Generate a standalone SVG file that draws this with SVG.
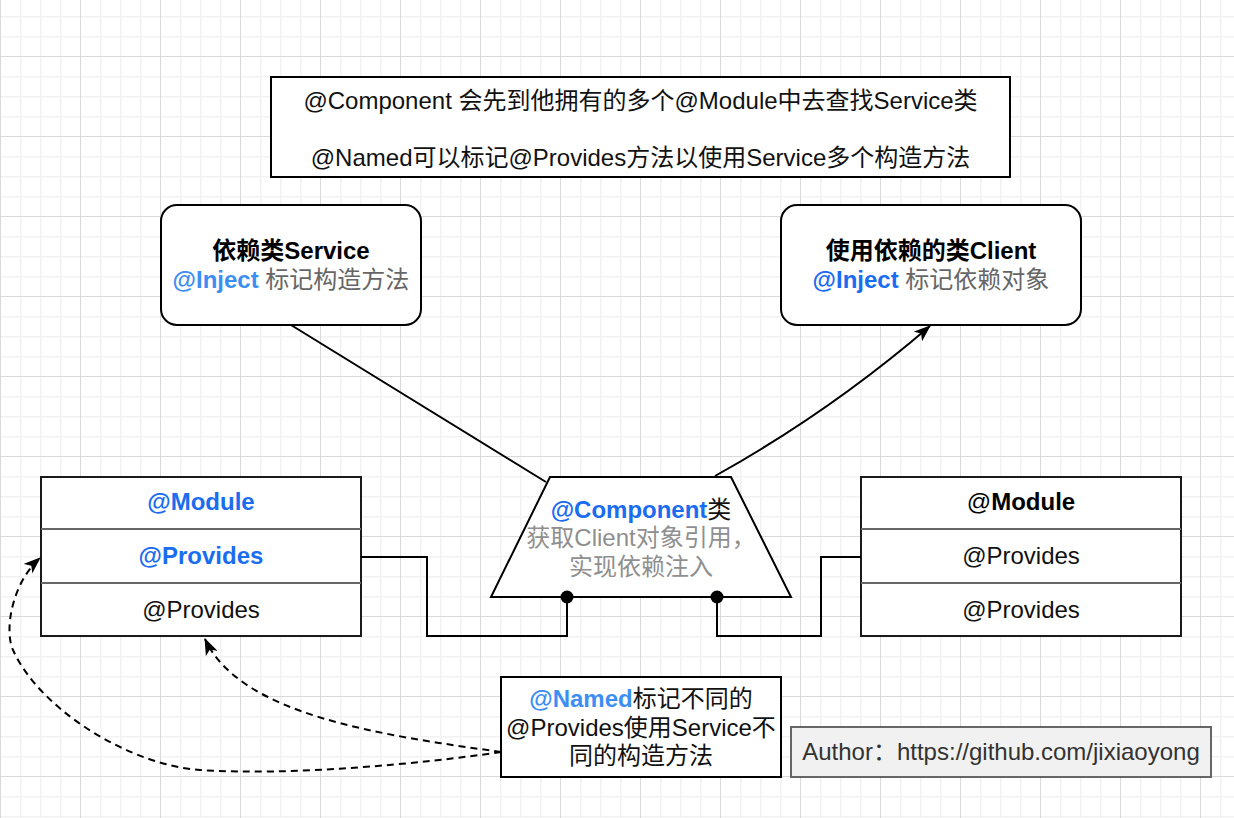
<svg xmlns="http://www.w3.org/2000/svg" width="1234" height="818" viewBox="0 0 1234 818">
<style>
text{font-family:"Liberation Sans","Noto Sans CJK SC",sans-serif;font-size:24px;text-anchor:middle}
.b{font-weight:bold}
.blue{fill:#1a6cf0}
.lblue{fill:#3d8ef2}
.gray{fill:#666666}
.lgray{fill:#8f8f8f}
.box{fill:#ffffff;stroke:#000000;stroke-width:2}
.mod{fill:#ffffff;stroke:#1a1a1a;stroke-width:2}
.div{stroke:#666666;stroke-width:2}
.edge{fill:none;stroke:#000000;stroke-width:2}
.dash{fill:none;stroke:#000000;stroke-width:2;stroke-dasharray:7 5}
</style>
<defs>
<pattern id="grid" patternUnits="userSpaceOnUse" x="0" y="-24" width="80" height="80">
<rect width="80" height="80" fill="#ffffff"/>
<g fill="#f2f2f2">
<rect x="20" y="0" width="1.5" height="80"/><rect x="40" y="0" width="1.5" height="80"/><rect x="60" y="0" width="1.5" height="80"/>
<rect x="0" y="20" width="80" height="1.5"/><rect x="0" y="40" width="80" height="1.5"/><rect x="0" y="60" width="80" height="1.5"/>
</g>
<g fill="#d9d9d9">
<rect x="0" y="0" width="1" height="80"/><rect x="0" y="0" width="80" height="1"/>
</g>
</pattern>
<marker id="arrow" viewBox="0 0 16 12" refX="15" refY="6" markerWidth="17" markerHeight="13" markerUnits="userSpaceOnUse" orient="auto">
<path d="M0,0 L16,6 L0,12 L4,6 Z" fill="#000000"/>
</marker>
</defs>
<rect width="1234" height="818" fill="url(#grid)"/>

<g id="note-top">
<rect class="box" x="271" y="77" width="739" height="100"/>
<text x="640.5" y="108.5" fill="#111111">@Component 会先到他拥有的多个@Module中去查找Service类</text>
<text x="640.5" y="166" fill="#111111">@Named可以标记@Provides方法以使用Service多个构造方法</text>
</g>

<g id="service">
<rect class="box" x="161" y="205" width="260" height="120" rx="16"/>
<text x="291" y="259" class="b" fill="#000000">依赖类Service</text>
<text x="291" y="288"><tspan class="b lblue">@Inject</tspan><tspan class="gray"> 标记构造方法</tspan></text>
</g>

<g id="client">
<rect class="box" x="781" y="205" width="300" height="120" rx="16"/>
<text x="931" y="259" class="b" fill="#000000">使用依赖的类Client</text>
<text x="931" y="288"><tspan class="b blue">@Inject</tspan><tspan class="gray"> 标记依赖对象</tspan></text>
</g>

<g id="module-left">
<rect class="mod" x="41" y="477" width="320" height="159"/>
<line class="div" x1="41" y1="529" x2="361" y2="529"/>
<line class="div" x1="41" y1="583" x2="361" y2="583"/>
<text x="201" y="510" class="b blue">@Module</text>
<text x="201" y="564" class="b blue">@Provides</text>
<text x="201" y="618" fill="#111111">@Provides</text>
</g>

<g id="module-right">
<rect class="mod" x="861" y="477" width="320" height="159"/>
<line class="div" x1="861" y1="529" x2="1181" y2="529"/>
<line class="div" x1="861" y1="583" x2="1181" y2="583"/>
<text x="1021" y="510" fill="#000000"><tspan>@</tspan><tspan class="b">Module</tspan></text>
<text x="1021" y="564" fill="#111111">@Provides</text>
<text x="1021" y="618" fill="#111111">@Provides</text>
</g>

<g id="component">
<polygon class="box" points="550,477 731,477 791,597 491,597"/>
<text x="641" y="517.5"><tspan class="b blue">@Component</tspan><tspan fill="#111111">类</tspan></text>
<text x="641" y="546" class="lgray">获取Client对象引用，</text>
<text x="641" y="575" class="lgray">实现依赖注入</text>
</g>

<g id="note-named">
<rect class="box" x="501" y="677" width="280" height="100"/>
<text x="641" y="707"><tspan class="b lblue">@Named</tspan><tspan fill="#111111">标记不同的</tspan></text>
<text x="641" y="735.5" fill="#111111">@Provides使用Service不</text>
<text x="641" y="764" fill="#111111">同的构造方法</text>
</g>

<g id="author">
<rect x="791" y="727" width="420" height="50" fill="#f1f1f1" stroke="#666666" stroke-width="2"/>
<text x="1001" y="760" fill="#333333">Author：https://github.com/jixiaoyong</text>
</g>

<g id="connectors">
<line class="edge" x1="291" y1="325" x2="546" y2="482"/>
<path class="edge" d="M715,476 Q830,412 930,326" marker-end="url(#arrow)"/>
<polyline class="edge" points="567,597 567,636 427,636 427,557 361,557"/>
<polyline class="edge" points="717,597 717,636 821,636 821,557 861,557"/>
<circle cx="567" cy="597" r="6.5" fill="#000000"/>
<circle cx="717" cy="597" r="6.5" fill="#000000"/>
<path class="dash" d="M501,752 C420,764 290,776 200,770 C130,765 40,710 13,650 C4,630 12,583 40,558" marker-end="url(#arrow)"/>
<path class="dash" d="M501,752 C380,735 240,715 205,639" marker-end="url(#arrow)"/>
</g>
</svg>
